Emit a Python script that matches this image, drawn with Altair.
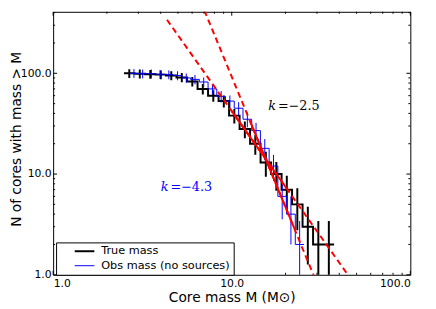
import altair as alt
import numpy as np
import pandas as pd

# ---------------- data ----------------
series_names = ["True mass", "Obs mass (no sources)"]

# bin centres (solar masses) and cumulative counts N(>M)
true_M = [2.669, 3.056, 3.499, 4.007, 4.587, 5.253, 6.014, 6.887, 7.886, 9.029,
          10.34, 11.84, 13.55, 15.52, 17.77, 20.34, 23.29, 26.67, 30.54, 34.97]
true_N = [100, 99, 98, 97, 95, 91, 83, 70, 60, 53,
          38, 28, 20, 13, 10, 7, 5, 3, 2, 2]

obs_M = [2.834, 3.171, 3.549, 3.971, 4.444, 4.973, 5.564, 6.227, 6.968, 7.797,
         8.725, 9.763, 10.93, 12.23, 13.68, 15.31, 17.13, 19.17, 21.45, 24.00]
obs_N = [100, 99, 99, 98, 97, 95, 90, 87, 82, 70,
         59, 53, 45, 35, 27, 18, 12, 6, 4, 2]

# power-law fits  N = 10**logA * M**k
fit_k = [-2.5, -4.3]
fit_logA = [4.125, 6.266]
dash_lo = [4.34, 4.34]
dash_hi = [60.0, 60.0]
solid_lo = [10.0, 12.7]
solid_hi = [20.2, 22.4]

ann_k = ["k", "k"]
ann_rest = ["=\u22122.5", "=\u22124.3"]
ann_M = [16.0, 4.0]
ann_N = [47.3, 7.36]
ann_color = ["#000000", "#0000ff"]

x_major = [1, 10, 100]
x_minor = [2, 3, 4, 5, 6, 7, 8, 9, 20, 30, 40, 50, 60, 70, 80, 90]
y_major = [1, 10, 100]
y_minor = [2, 3, 4, 5, 6, 7, 8, 9, 20, 30, 40, 50, 60, 70, 80, 90, 200, 300, 400]

# ---------------- layout ----------------
W, H = 364, 268
xs = alt.Scale(type="log", domain=[1, 100], nice=False)
ys = alt.Scale(type="log", domain=[1, 408], nice=False)

col_scale = alt.Scale(domain=series_names, range=["#000000", "#0000ff"])
sw_scale = alt.Scale(type="point", domain=series_names, range=[2, 1], padding=0)

legend = alt.Legend(
    title=None, orient="none", legendX=3, legendY=235,
    symbolType="M-2,0H2", symbolSize=100, symbolOffset=20,
    labelFont="DejaVu Sans", labelFontSize=11.5, labelColor="black",
    labelOffset=11, strokeColor="black", fillColor="white", padding=3,
    rowPadding=2,
)

x_axis = alt.Axis(values=x_major, format=".1f", ticks=False, tickSize=0, domain=False,
                  grid=False, labelPadding=3, labelFontSize=11, labelFont="DejaVu Sans",
                  labelColor="black", title="Core mass M (M\u2299)", titleFontSize=14,
                  titleFont="DejaVu Sans", titleFontWeight="normal", titleColor="black",
                  titleY=27, titleBaseline="alphabetic")
y_axis = alt.Axis(values=y_major, format=".1f", ticks=False, tickSize=0, domain=False,
                  grid=False, labelPadding=2, labelFontSize=11, labelFont="DejaVu Sans",
                  labelColor="black", title="N of cores with mass > M", titleFontSize=14,
                  titleFont="DejaVu Sans", titleFontWeight="normal", titleColor="black",
                  titleX=-44.5, titleY=129.5, titleBaseline="top")


def X(field):
    return alt.X(field, scale=xs, axis=x_axis)


def Y(field):
    return alt.Y(field, scale=ys, axis=y_axis)


def step_frame(centers, counts, name):
    lc = np.log10(np.array(centers, dtype=float))
    d = np.diff(lc)
    edges = np.concatenate([[lc[0] - d[0] / 2], (lc[:-1] + lc[1:]) / 2, [lc[-1] + d[-1] / 2]])
    return pd.DataFrame({
        "M": 10 ** edges,
        "N": list(counts) + [counts[-1]],
        "idx": np.arange(len(edges)),
        "series": name,
    })


def err_frame(centers, counts):
    n = np.array(counts, dtype=float)
    return pd.DataFrame({"M": centers, "lo": n - np.sqrt(n), "hi": n + np.sqrt(n)})


def step_layer(df):
    return alt.Chart(df).mark_line(interpolate="step-after", clip=True).encode(
        x=X("M:Q"),
        y=Y("N:Q"),
        color=alt.Color("series:N", scale=col_scale, legend=legend),
        strokeWidth=alt.StrokeWidth("series:N", scale=sw_scale, legend=legend),
        order=alt.Order("idx:Q"),
    )


def err_layer(df, color, width):
    return alt.Chart(df).mark_rule(color=color, strokeWidth=width, clip=True).encode(
        x=X("M:Q"),
        y=Y("lo:Q"),
        y2="hi:Q",
    )


true_steps = step_frame(true_M, true_N, series_names[0])
obs_steps = step_frame(obs_M, obs_N, series_names[1])

fit_rows = []
for i in range(len(fit_k)):
    for kind, lo, hi in (("dash", dash_lo[i], dash_hi[i]), ("solid", solid_lo[i], solid_hi[i])):
        for j, m in enumerate((lo, hi)):
            fit_rows.append({"fit": i, "kind": kind, "M": m, "j": j,
                             "N": 10 ** (fit_logA[i] + fit_k[i] * np.log10(m))})
fit_df = pd.DataFrame(fit_rows)

dash_layer = alt.Chart(fit_df[fit_df.kind == "dash"]).mark_line(
    color="#ff0000", strokeWidth=2, strokeDash=[6, 4], clip=True).encode(
    x=X("M:Q"), y=Y("N:Q"), detail="fit:N", order="j:Q")
solid_layer = alt.Chart(fit_df[fit_df.kind == "solid"]).mark_line(
    color="#ff0000", strokeWidth=2, clip=True).encode(
    x=X("M:Q"), y=Y("N:Q"), detail="fit:N", order="j:Q")

ann_df = pd.DataFrame({"k": ann_k, "rest": ann_rest, "M": ann_M, "N": ann_N, "c": ann_color})
ann_k_layer = alt.Chart(ann_df).mark_text(
    align="left", baseline="middle", font="DejaVu Serif", fontSize=13, fontStyle="italic").encode(
    x=X("M:Q"), y=Y("N:Q"), text="k:N", color=alt.Color("c:N", scale=None))
ann_rest_layer = alt.Chart(ann_df).mark_text(
    align="left", baseline="middle", font="DejaVu Serif", fontSize=13, dx=10).encode(
    x=X("M:Q"), y=Y("N:Q"), text="rest:N", color=alt.Color("c:N", scale=None))


def xtick_layer(vals, length, top):
    y0 = 0 if top else H
    y1 = length if top else H - length
    return alt.Chart(pd.DataFrame({"v": vals})).mark_rule(color="black", strokeWidth=1).encode(
        x=X("v:Q"), y=alt.value(y0), y2=alt.value(y1))


def ytick_layer(vals, length, right):
    x0 = W if right else 0
    x1 = W - length if right else length
    return alt.Chart(pd.DataFrame({"v": vals})).mark_rule(color="black", strokeWidth=1).encode(
        y=Y("v:Q"), x=alt.value(x0), x2=alt.value(x1))


layers = [
    step_layer(true_steps),
    err_layer(err_frame(true_M, true_N), "#000000", 2),
    step_layer(obs_steps),
    err_layer(err_frame(obs_M, obs_N), "#0000ff", 1),
    dash_layer,
    solid_layer,
    ann_k_layer,
    ann_rest_layer,
    xtick_layer(x_major, 4, False), xtick_layer(x_minor, 2, False),
    xtick_layer(x_major, 4, True), xtick_layer(x_minor, 2, True),
    ytick_layer(y_major, 4, False), ytick_layer(y_minor, 2, False),
    ytick_layer(y_major, 4, True), ytick_layer(y_minor, 2, True),
]

chart = alt.layer(*layers).properties(
    width=W, height=H,
    autosize=alt.AutoSizeParams(type="none"),
    padding={"left": 46, "top": 1, "right": 18, "bottom": 32},
).configure_view(stroke="black", strokeWidth=1).configure_axis(grid=False)

chart.save("out.html", embed_options={"renderer": "svg", "actions": False})
